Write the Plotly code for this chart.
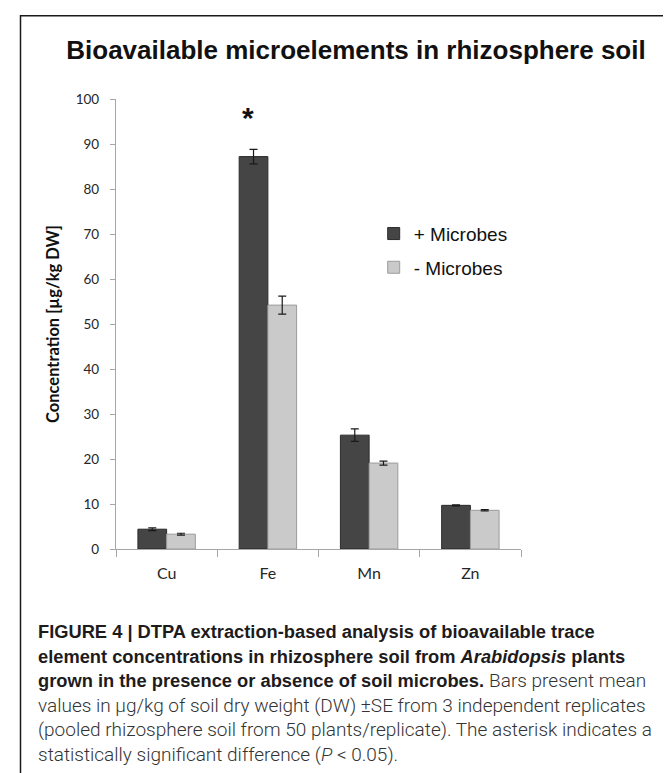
import plotly.graph_objects as go

# ---------------- data ----------------
elements = ["Cu", "Fe", "Mn", "Zn"]
series_names = ["+ Microbes", "- Microbes"]
plus_mean = [4.4, 87.2, 25.3, 9.7]
plus_se = [0.3, 1.6, 1.4, 0.1]
minus_mean = [3.3, 54.2, 19.1, 8.6]
minus_se = [0.2, 2.0, 0.45, 0.15]
y_tick_values = [0, 10, 20, 30, 40, 50, 60, 70, 80, 90, 100]
significant = ["Fe"]

title_text = "Bioavailable microelements in rhizosphere soil"
y_title = "Concentration [µg/kg DW]"

LIGHT = "<span style='font-family:Roboto;font-weight:300;font-size:19px;fill:#333333'>"
caption_lines = [
    "<b>FIGURE 4 | DTPA extraction-based analysis of bioavailable trace</b>",
    "<b>element concentrations in rhizosphere soil from <i>Arabidopsis</i> plants</b>",
    "<b>grown in the presence or absence of soil microbes.</b> " + LIGHT + "Bars present mean</span>",
    LIGHT + "values in µg/kg of soil dry weight (DW) ±SE from 3 independent replicates</span>",
    LIGHT + "(pooled rhizosphere soil from 50 plants/replicate). The asterisk indicates a</span>",
    LIGHT + "statistically significant difference (<i>P</i> &lt; 0.05).</span>",
]

# ---------------- layout geometry ----------------
W, H = 671, 773
PL, PR, PT, PB = 108.3, 513.3, 91.3, 541.3


def px(x):
    return (x - PL) / (PR - PL)


def py(y):
    return (PB - y) / (PB - PT)


fig = go.Figure()
fig.add_bar(
    x=elements, y=plus_mean, name=series_names[0], legendgroup="g1",
    marker=dict(color="#454545", line=dict(color="#2b2b2b", width=1)),
    error_y=dict(type="data", array=plus_se, color="#1a1a1a", thickness=1.2, width=4),
)
fig.add_bar(
    x=elements, y=minus_mean, name=series_names[1], legendgroup="g2",
    marker=dict(color="#cacaca", line=dict(color="#9c9c9c", width=1)),
    error_y=dict(type="data", array=minus_se, color="#1a1a1a", thickness=1.2, width=4),
)

annotations = []
for el in significant:
    annotations.append(dict(
        x=el, y=96, xref="x", yref="y", xshift=-20, text="<b>*</b>", showarrow=False,
        font=dict(family="Liberation Sans, Arial", size=30, color="#111"),
    ))

cap_y = [624, 648.5, 673, 697.5, 722, 746.5]
for line, yy in zip(caption_lines, cap_y):
    annotations.append(dict(
        x=px(28), y=py(yy), xref="paper", yref="paper", xanchor="left", yanchor="middle",
        text=line, showarrow=False, align="left",
        font=dict(family="Liberation Sans Narrow, Liberation Sans, Arial", size=18.3, color="#1e1b1c"),
    ))

fig.update_layout(
    width=W, height=H, autosize=False,
    margin=dict(l=PL, r=W - PR, t=PT, b=H - PB, pad=0),
    paper_bgcolor="white", plot_bgcolor="white",
    barmode="group", bargap=0.433, bargroupgap=0,
    title=dict(
        text=title_text, x=348 / W, xanchor="center", xref="container",
        y=1 - 42 / H, yanchor="middle", yref="container",
        font=dict(family="Liberation Sans, Arial", size=26, color="#111", weight="bold"),
    ),
    xaxis=dict(
        showline=True, linecolor="#a6a6a6", linewidth=1.2,
        ticks="outside", tickson="boundaries", ticklen=7, tickcolor="#a6a6a6",
        tickfont=dict(family="Lato, Open Sans", size=16, color="#262626"),
        ticklabelstandoff=10, showgrid=False, zeroline=False,
    ),
    yaxis=dict(
        range=[0, 100], tickvals=y_tick_values,
        showline=True, linecolor="#a6a6a6", linewidth=1.2,
        ticks="outside", ticklen=5, tickcolor="#a6a6a6",
        tickfont=dict(family="Lato, Open Sans", size=13.5, color="#262626"),
        ticklabelstandoff=8, showgrid=False, zeroline=False,
        title=dict(text=y_title, standoff=11,
                   font=dict(family="Lato, Open Sans", size=16.5, color="#111", weight="bold")),
    ),
    legend=dict(
        x=px(366), y=py(207), xanchor="left", yanchor="top",
        bgcolor="rgba(0,0,0,0)", tracegroupgap=6,
        font=dict(family="Liberation Sans, Arial", size=19, color="#111"),
    ),
    annotations=annotations,
    shapes=[dict(
        type="path", xref="paper", yref="paper",
        path=f"M {px(12.8)},{py(790)} L {px(12.8)},{py(8)} L {px(666.5)},{py(8)} L {px(666.5)},{py(790)}",
        line=dict(color="#1a1a1a", width=1.5),
    )],
)

fig.write_html("out.html")
